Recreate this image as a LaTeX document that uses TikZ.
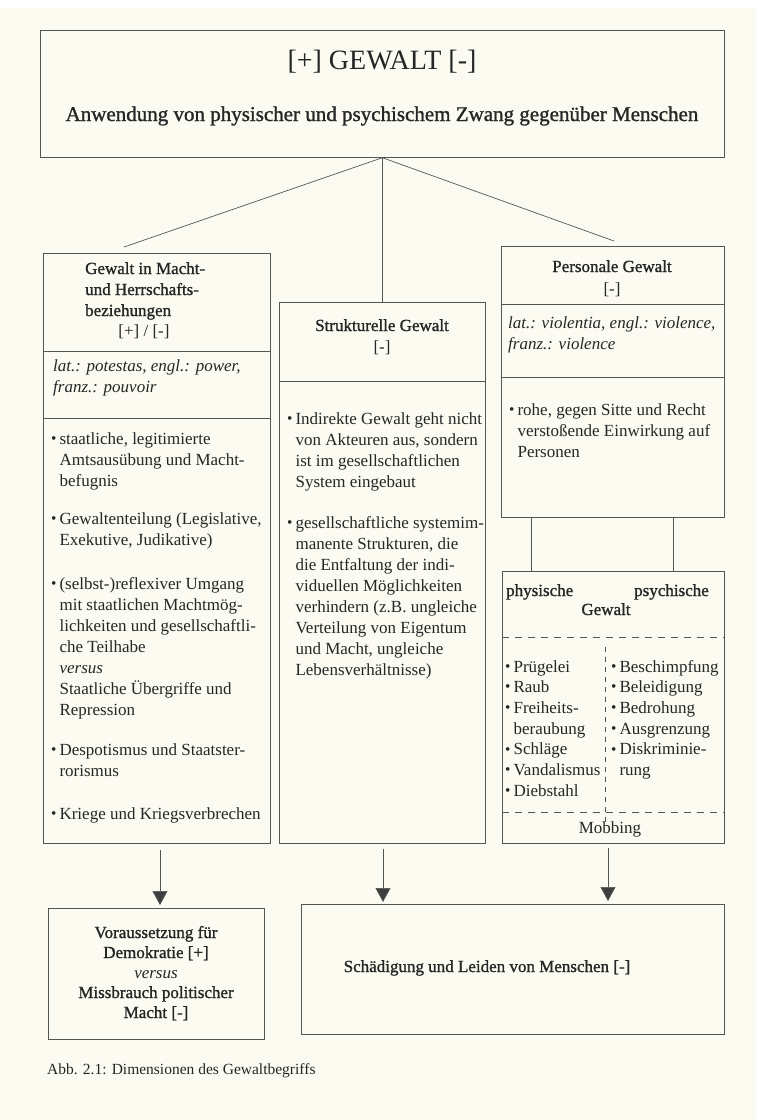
\documentclass[tikz,border=0pt]{standalone}
\usepackage{fontspec}
\setmainfont{Liberation Serif}
\newfontface\semib[FakeBold=1.2]{Liberation Serif}
\usetikzlibrary{arrows.meta}
\definecolor{paper}{HTML}{FCFBF2}
\definecolor{inkc}{HTML}{262626}
\definecolor{linec}{HTML}{555555}
\definecolor{tipc}{HTML}{3E3E3E}
\newcommand{\bodyf}{\fontsize{17}{21}\selectfont}
\newcommand{\listf}{\fontsize{17}{20.7}\selectfont}
\newcommand{\gbul}{\raisebox{0.1ex}{\scalebox{0.9}{\textbullet}}}
\newcommand{\bblock}[1]{\begin{tabular}[t]{@{}l@{\hspace{3pt}}l@{}}#1\end{tabular}}
\newcommand{\lblock}[1]{\begin{tabular}[t]{@{}l@{}}#1\end{tabular}}
\newcommand{\cblock}[1]{\begin{tabular}[t]{@{}c@{}}#1\end{tabular}}
\begin{document}
\begin{tikzpicture}[x=1pt,y=-1pt,
  box/.style={draw=linec, line width=0.7pt, inner sep=0pt, anchor=north west},
  tx/.style={inner sep=0pt, text=inkc, font=\bodyf},
  hd/.style={inner sep=0pt, text=inkc, font=\bodyf\semib},
  it/.style={inner sep=0pt, text=inkc, font=\bodyf\itshape},
  ls/.style={inner sep=0pt, text=inkc, font=\listf},
  dv/.style={draw=linec, line width=0.7pt},
  dsh/.style={draw=linec, line width=0.7pt, dash pattern=on 7pt off 6pt},
  vdsh/.style={draw=linec, line width=0.6pt, dash pattern=on 5pt off 5pt},
  arr/.style={draw=linec, line width=0.7pt, -{Triangle[width=15pt,length=14pt,fill=tipc]}}]
\fill[white] (0,0) rectangle (756,1120);
\fill[paper] (0,8) rectangle (756,1120);
\useasboundingbox (0,0) rectangle (756,1120);

% top box
\node[box, minimum width=684pt, minimum height=127pt] (topbox) at (40,30) {};
\node[tx, font=\fontsize{28}{32}\selectfont, anchor=base] (title) at (382,69) {[+] GEWALT [-]};
\node[hd, font=\fontsize{21}{25}\selectfont\semib, anchor=base] (sub) at (382,121) {Anwendung von physischer und psychischem Zwang gegenüber Menschen};

% columns
\node[box, minimum width=227pt, minimum height=590pt] (leftbox) at (43,253) {};
\node[box, minimum width=206pt, minimum height=541pt] (midbox) at (279,302) {};
\node[box, minimum width=223pt, minimum height=271pt] (rightbox) at (501,246) {};
\node[box, minimum width=222pt, minimum height=272pt] (physbox) at (502,571) {};
\node[box, minimum width=216pt, minimum height=131pt] (botleft) at (48,908) {};
\node[box, minimum width=423pt, minimum height=130pt] (botright) at (301,904) {};

% connectors from top
\coordinate (lend) at (124,247);
\coordinate (rend) at (614,241);
\draw[dv] (topbox.south) -- (lend);
\draw[dv] (topbox.south) -- (midbox.north);
\draw[dv] (topbox.south) -- (rend);

% left column
\node[hd, anchor=base west] (lh) at (85,274) {\lblock{Gewalt in Macht-\\und Herrschafts-\\beziehungen}};
\node[tx, anchor=base] (lhpm) at (144,336) {[+] / [-]};
\draw[dv] (43,351) -- (270,351);
\node[it, anchor=base west] (lit) at (53,371) {\lblock{lat.: potestas, engl.: power,\\franz.: pouvoir}};
\draw[dv] (43,418) -- (270,418);
\node[tx, anchor=base west] (lb1) at (51,444) {\bblock{\gbul & staatliche, legitimierte\\ & Amtsausübung und Macht-\\ & befugnis}};
\node[tx, anchor=base west] (lb2) at (51,524) {\bblock{\gbul & Gewaltenteilung (Legislative,\\ & Exekutive, Judikative)}};
\node[tx, anchor=base west] (lb3) at (51,589) {\bblock{\gbul & (selbst-)reflexiver Umgang\\ & mit staatlichen Machtmög-\\ & lichkeiten und gesellschaftli-\\ & che Teilhabe\\ & \textit{versus}\\ & Staatliche Übergriffe und\\ & Repression}};
\node[tx, anchor=base west] (lb4) at (51,755) {\bblock{\gbul & Despotismus und Staatster-\\ & rorismus}};
\node[tx, anchor=base west] (lb5) at (51,819) {\bblock{\gbul & Kriege und Kriegsverbrechen}};

% middle column
\node[hd, anchor=base] (mh) at (382,331) {Strukturelle Gewalt};
\node[tx, anchor=base] (mhm) at (382,352) {[-]};
\draw[dv] (279,381) -- (485,381);
\node[tx, anchor=base west] (mb1) at (287,424) {\bblock{\gbul & Indirekte Gewalt geht nicht\\ & von Akteuren aus, sondern\\ & ist im gesellschaftlichen\\ & System eingebaut}};
\node[tx, anchor=base west] (mb2) at (287,528) {\bblock{\gbul & gesellschaftliche systemim-\\ & manente Strukturen, die\\ & die Entfaltung der indi-\\ & viduellen Möglichkeiten\\ & verhindern (z.B. ungleiche\\ & Verteilung von Eigentum\\ & und Macht, ungleiche\\ & Lebensverhältnisse)}};

% right column
\node[hd, anchor=base] (rh) at (612,272) {Personale Gewalt};
\node[tx, anchor=base] (rhm) at (612,294) {[-]};
\draw[dv] (501,304) -- (724,304);
\node[it, anchor=base west] (rit) at (508,328) {\lblock{lat.: violentia, engl.: violence,\\franz.: violence}};
\draw[dv] (501,377) -- (724,377);
\node[tx, anchor=base west] (rb1) at (509,415) {\bblock{\gbul & rohe, gegen Sitte und Recht\\ & verstoßende Einwirkung auf\\ & Personen}};

\draw[dv] ([xshift=30pt]rightbox.south west) -- ([xshift=29pt]physbox.north west);
\draw[dv] ([xshift=172pt]rightbox.south west) -- ([xshift=171pt]physbox.north west);

% physische / psychische
\node[hd, anchor=base west] (phl) at (506,596) {physische};
\node[hd, anchor=base east] (phr) at (709,596) {psychische};
\node[hd, anchor=base] (phg) at (606,615) {Gewalt};
\draw[dsh] (502,637) -- (724,637);
\draw[dsh] (502,812) -- (724,812);
\draw[vdsh] (605,647) -- (605,823);
\node[ls, anchor=base west] (pl) at (505,672) {\bblock{\gbul & Prügelei\\ \gbul & Raub\\ \gbul & Freiheits-\\ & beraubung\\ \gbul & Schläge\\ \gbul & Vandalismus\\ \gbul & Diebstahl}};
\node[ls, anchor=base west] (pr) at (611,672) {\bblock{\gbul & Beschimpfung\\ \gbul & Beleidigung\\ \gbul & Bedrohung\\ \gbul & Ausgrenzung\\ \gbul & Diskriminie-\\ & rung}};
\node[tx, anchor=base] (mob) at (610,833) {Mobbing};

% arrows
\coordinate (a1s) at (160,850); \coordinate (a1e) at (160,905);
\coordinate (a2s) at (383,849); \coordinate (a2e) at (383,902);
\coordinate (a3s) at (608,848); \coordinate (a3e) at (608,901);
\draw[arr] (a1s) -- (a1e);
\draw[arr] (a2s) -- (a2e);
\draw[arr] (a3s) -- (a3e);

% bottom boxes text
\node[tx, anchor=base, font=\fontsize{17}{20}\selectfont] (blt) at (156,938) {\cblock{{\semib Voraussetzung für}\\{\semib Demokratie [+]}\\\textit{versus}\\{\semib Missbrauch politischer}\\{\semib Macht [-]}}};
\node[hd, anchor=base] (brt) at (487,972) {Schädigung und Leiden von Menschen [-]};

% caption
\node[tx, font=\fontsize{15.5}{18}\selectfont, anchor=base west] (cap) at (47,1074) {Abb. 2.1: Dimensionen des Gewaltbegriffs};
\end{tikzpicture}
\end{document}
